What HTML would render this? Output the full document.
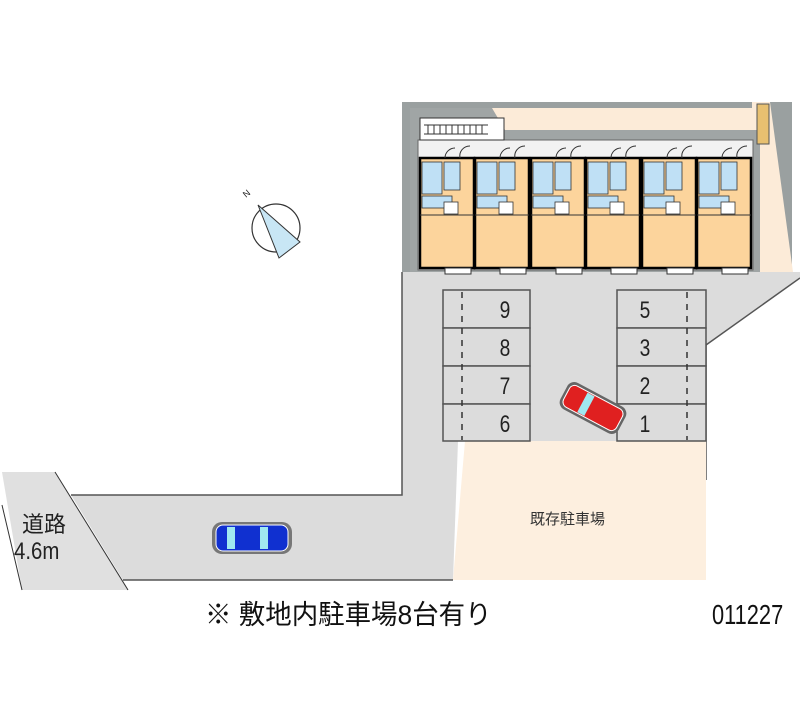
<!DOCTYPE html>
<html><head><meta charset="utf-8"><style>
body{margin:0;background:#fff}
svg{display:block}
text{font-family:"Liberation Sans","Noto Sans CJK JP",sans-serif}
</style></head><body>
<svg width="800" height="727" viewBox="0 0 800 727" xmlns="http://www.w3.org/2000/svg">
<polygon points="2,472 55,472 128,590 22,590" fill="#e0e0e0"/>
<line x1="55" y1="472" x2="128" y2="590" stroke="#333" stroke-width="1"/>
<line x1="2" y1="505" x2="22" y2="590" stroke="#333" stroke-width="1"/>
<polygon points="71,495 402,495 402,272 800,272 800,278 706,345 706,441 458,441 453,580 123,580" fill="#dcdcdc"/>
<polyline points="71,495 402,495 402,272" fill="none" stroke="#555" stroke-width="1.5"/>
<line x1="123" y1="580" x2="453" y2="580" stroke="#555" stroke-width="1.5"/>
<line x1="800" y1="278" x2="706" y2="345" stroke="#555" stroke-width="1.5"/>
<line x1="706" y1="345" x2="706" y2="480" stroke="#555" stroke-width="1.5"/>
<polygon points="465,441 706,441 706,580 453,580" fill="#fdefdf"/>
<text x="530" y="524" font-size="15" fill="#333">既存駐車場</text>
<rect x="402" y="102" width="390" height="170" fill="#9aa0a0"/>
<polygon points="410,108 752,108 752,102 770,102 793,272 410,272" fill="#fcebd8"/>
<polygon points="410,108 492,108 505,130 760,130 760,272 410,272" fill="#a0a5a5"/>
<rect x="418" y="140" width="335" height="130" fill="#f2f2f2" stroke="#666" stroke-width="1"/>
<rect x="420" y="118" width="84" height="22" fill="#fff" stroke="#333"/>
<g stroke="#333" stroke-width="1">
<line x1="424" y1="125" x2="488" y2="125"/><line x1="424" y1="134" x2="488" y2="134"/>
<line x1="428" y1="125" x2="428" y2="134"/><line x1="434" y1="125" x2="434" y2="134"/><line x1="440" y1="125" x2="440" y2="134"/><line x1="446" y1="125" x2="446" y2="134"/><line x1="452" y1="125" x2="452" y2="134"/><line x1="458" y1="125" x2="458" y2="134"/><line x1="464" y1="125" x2="464" y2="134"/><line x1="470" y1="125" x2="470" y2="134"/><line x1="476" y1="125" x2="476" y2="134"/><line x1="482" y1="125" x2="482" y2="134"/>
</g>
<rect x="757" y="104" width="12" height="40" fill="#e8c070" stroke="#555"/>
<g id="u">
<rect x="420" y="158" width="54" height="110" fill="#fcd49c" stroke="#000" stroke-width="2.5"/>
<rect x="422" y="162" width="20" height="32" fill="#bfe0f5" stroke="#333" stroke-width=".8"/>
<rect x="444" y="162" width="16" height="28" fill="#bfe0f5" stroke="#333" stroke-width=".8"/>
<rect x="422" y="196" width="30" height="12" fill="#bfe0f5" stroke="#333" stroke-width=".8"/>
<rect x="444" y="202" width="14" height="12" fill="#fff" stroke="#333" stroke-width=".8"/>
<line x1="420" y1="215" x2="474" y2="215" stroke="#333"/>
<rect x="445" y="268" width="26" height="6" fill="#fff" stroke="#333"/>
<path d="M445 158 a10 10 0 0 1 10 -10 M460 158 a10 10 0 0 1 10 -12" fill="none" stroke="#333"/>
</g>
<use href="#u" x="55"/><use href="#u" x="111"/><use href="#u" x="166"/><use href="#u" x="222"/><use href="#u" x="277"/>
<g fill="#dcdcdc" stroke="#555" stroke-width="1.5">
<rect x="443" y="290" width="87" height="38"/><rect x="443" y="328" width="87" height="38"/><rect x="443" y="366" width="87" height="38"/><rect x="443" y="404" width="87" height="37"/>
<rect x="617" y="290" width="89" height="38"/><rect x="617" y="328" width="89" height="38"/><rect x="617" y="366" width="89" height="38"/><rect x="617" y="404" width="89" height="37"/>
</g>
<g stroke="#333" stroke-width="1.5" stroke-dasharray="6,6">
<line x1="462" y1="292" x2="462" y2="440"/><line x1="687" y1="292" x2="687" y2="440"/>
</g>
<g font-size="24" fill="#222" text-anchor="middle">
<text transform="translate(505,318) scale(.8,1)">9</text><text transform="translate(505,356) scale(.8,1)">8</text><text transform="translate(505,394) scale(.8,1)">7</text><text transform="translate(505,432) scale(.8,1)">6</text>
<text transform="translate(645,318) scale(.8,1)">5</text><text transform="translate(645,356) scale(.8,1)">3</text><text transform="translate(645,394) scale(.8,1)">2</text><text transform="translate(645,432) scale(.8,1)">1</text>
</g>
<g transform="translate(593,408) rotate(28)">
<rect x="-33" y="-15" width="66" height="30" rx="8" fill="#666"/>
<rect x="-30" y="-12" width="60" height="24" rx="6" fill="#e02020" stroke="#fff"/>
<rect x="-12" y="-11" width="8" height="22" fill="#a0e8f0"/>
</g>
<g transform="translate(252,538)">
<rect x="-40" y="-16" width="80" height="32" rx="10" fill="#777"/>
<rect x="-36" y="-13" width="72" height="26" rx="7" fill="#1030d0" stroke="#fff"/>
<rect x="-25" y="-11" width="8" height="22" fill="#a0e8f0"/><rect x="8" y="-11" width="8" height="22" fill="#a0e8f0"/>
</g>
<text x="22" y="532" font-size="22" fill="#222">道路</text>
<text transform="translate(14,559) scale(.85,1)" font-size="24" fill="#222">4.6m</text>
<circle cx="276" cy="228" r="24" fill="none" stroke="#333" stroke-width="1.2"/>
<polygon points="258,205 300,242 279,258" fill="#c8e6f5" stroke="#333" stroke-width="1"/>
<text x="246" y="198" font-size="9" fill="#222" transform="rotate(-40 246 198)">N</text>
<text transform="translate(205,624) scale(.98,1)" font-size="27" fill="#111">※ 敷地内駐車場8台有り</text>
<text transform="translate(712,624) scale(.78,1)" font-size="28" fill="#111">011227</text>
</svg>
</body></html>
